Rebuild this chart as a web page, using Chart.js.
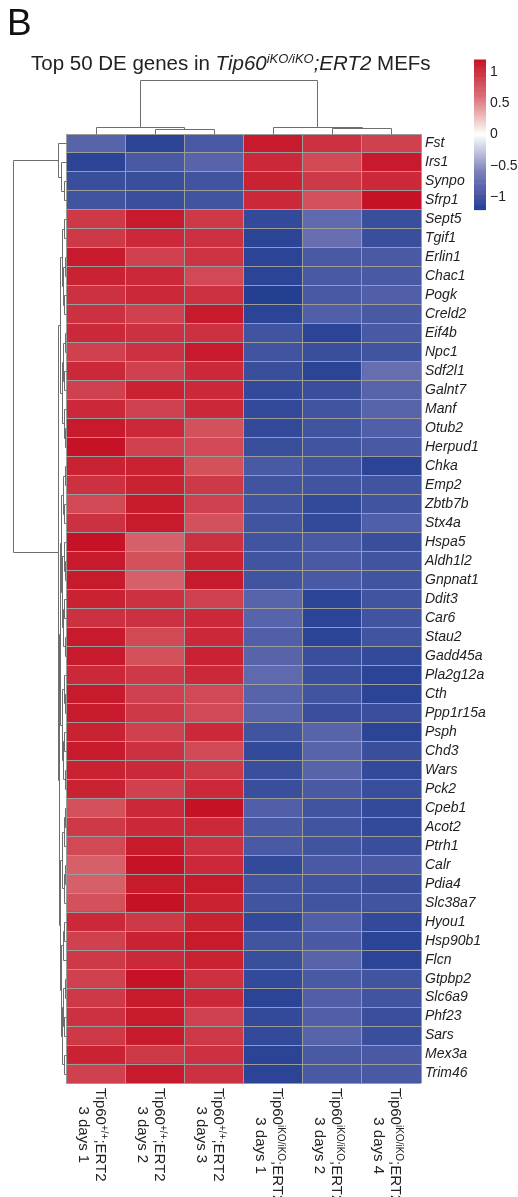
<!DOCTYPE html>
<html><head><meta charset="utf-8">
<script src="https://cdn.jsdelivr.net/npm/chart.js@4/dist/chart.umd.min.js"></script>
<style>html,body{margin:0;padding:0;background:#fff;}#wrap{position:relative;width:518px;height:1197px;}</style>
</head><body><div id="wrap"><canvas id="c"></canvas></div>
<script>
// ---------- data ----------
const genes = ['Fst','Irs1','Synpo','Sfrp1','Sept5','Tgif1','Erlin1','Chac1','Pogk','Creld2',
 'Eif4b','Npc1','Sdf2l1','Galnt7','Manf','Otub2','Herpud1','Chka','Emp2','Zbtb7b',
 'Stx4a','Hspa5','Aldh1l2','Gnpnat1','Ddit3','Car6','Stau2','Gadd45a','Pla2g12a','Cth',
 'Ppp1r15a','Psph','Chd3','Wars','Pck2','Cpeb1','Acot2','Ptrh1','Calr','Pdia4',
 'Slc38a7','Hyou1','Hsp90b1','Flcn','Gtpbp2','Slc6a9','Phf23','Sars','Mex3a','Trim46'];
const sampleGenotype = ['+/+','+/+','+/+','iKO/iKO','iKO/iKO','iKO/iKO'];
const sampleDay = ['3 days 1','3 days 2','3 days 3','3 days 1','3 days 2','3 days 4'];
const wt1 = [-0.85,-1.15,-1.05,-1.0,0.95,0.95,1.15,1.1,1.0,1.0, 1.05,0.9,1.05,0.9,1.05,1.15,1.2,1.1,1.0,0.85, 1.0,1.2,1.15,1.15,1.1,1.0,1.15,1.15,1.05,1.15, 1.15,1.1,1.15,1.1,1.1,0.8,0.95,0.85,0.7,0.7, 0.8,1.05,0.9,0.95,0.9,0.95,1.0,0.95,1.1,0.9];
const wt2 = [-1.15,-0.95,-1.05,-1.05,1.15,1.05,0.9,1.05,1.05,0.9, 1.0,1.0,0.9,1.1,0.9,1.05,0.9,1.1,1.1,1.15, 1.15,0.7,0.8,0.7,1.0,1.0,0.85,0.8,0.95,0.9, 0.95,0.9,1.0,1.05,0.9,1.05,1.05,1.15,1.2,1.15, 1.2,0.95,1.1,1.05,1.2,1.15,1.15,1.15,0.95,1.15];
const wt3 = [-0.95,-0.85,-1.0,-1.0,0.95,1.0,0.98,0.85,1.0,1.15, 1.0,1.15,1.05,1.05,1.05,0.8,0.85,0.8,0.95,0.9, 0.8,1.0,1.1,1.15,0.9,1.05,1.05,1.1,1.05,0.85, 0.85,1.05,0.85,0.95,1.05,1.2,1.05,1.0,1.05,1.15, 1.1,1.1,1.15,1.1,1.0,1.05,0.9,0.95,1.0,1.0];
const ko1 = [1.15,1.05,1.1,1.05,-1.1,-1.15,-1.15,-1.15,-1.2,-1.15, -1.0,-1.0,-1.05,-1.1,-1.1,-1.1,-1.05,-0.95,-1.0,-1.0, -1.0,-1.0,-1.0,-1.0,-0.85,-0.85,-0.9,-0.85,-0.8,-0.85, -0.85,-1.0,-1.1,-1.05,-1.05,-0.9,-0.95,-0.95,-1.1,-1.0, -1.0,-1.1,-1.0,-1.05,-1.1,-1.15,-1.1,-1.1,-1.15,-1.15];
const ko2 = [1.0,0.85,0.95,0.8,-0.8,-0.75,-0.95,-0.95,-0.95,-0.9, -1.15,-1.05,-1.15,-1.05,-1.0,-1.0,-1.0,-1.0,-1.0,-1.1, -1.1,-0.95,-0.95,-0.95,-1.15,-1.15,-1.15,-1.05,-1.05,-1.0, -1.05,-0.85,-0.85,-0.85,-0.95,-1.0,-1.0,-1.0,-0.95,-1.0, -1.0,-0.9,-0.95,-0.85,-0.95,-0.9,-0.9,-0.85,-0.95,-0.95];
const ko4 = [0.9,1.15,1.05,1.2,-1.05,-1.05,-0.95,-0.95,-0.9,-0.95, -0.95,-1.0,-0.75,-0.85,-0.85,-0.9,-0.95,-1.15,-1.0,-1.0, -0.9,-1.05,-1.0,-1.0,-1.0,-1.0,-1.0,-1.1,-1.15,-1.15, -1.05,-1.15,-1.05,-1.1,-1.05,-1.1,-1.1,-1.05,-0.95,-1.05, -1.0,-1.1,-1.15,-1.15,-1.0,-1.0,-1.05,-1.05,-0.95,-0.95];
const sampleValues = [wt1, wt2, wt3, ko1, ko2, ko4];
const legendTicks = [1, 0.5, 0, -0.5, -1];
// dendrograms: [left, right, height]; leaves are row / column indices
const rowTree = [
  [0, [1, [2, 3, 2], 5], 8],
  [
    [[[4,5,2],[[6,7,1.5],[8,9,2],3],4.5], [[[10,11,1.5],[12,13,2],3],[14,[15,16,1.5],2.5],4], 6],
    [
      [[[[17,18,1.5],[19,20,2],3],[[21,[22,23,1.5],2.5],[[24,25,2],[26,27,1.5],3],4],5],
       [[28,[29,30,1.5],2.5],[[31,32,2],[33,34,1.5],3],4], 6],
      [[[[35,36,1.5],37,2.5],[[38,39,1.5],40,2.5],4],
       [[[41,42,2],43,3],[[[44,45,1.5],[46,47,2],3],[48,49,2],4],5], 6],
      7
    ],
    8.5
  ],
  53
];
const colTree = [[0,[1,2,4.7],6.7],[3,[4,5,6.3],7.3],54];

// ---------- colours ----------
function lerp(a,b,t){return [0,1,2].map(i=>Math.round(a[i]+(b[i]-a[i])*t));}
function heatColor(v){
  v = Math.max(-1.2, Math.min(1.2, v));
  const W=[255,255,255];
  let c;
  if (v >= 0) {
    const m=[216,112,118], e=[198,18,38];
    c = v <= 0.6 ? lerp(W,m,v/0.6) : lerp(m,e,(v-0.6)/0.6);
  } else {
    const m=[124,126,187], e=[36,63,146];
    const a=-v;
    c = a <= 0.6 ? lerp(W,m,a/0.6) : lerp(m,e,(a-0.6)/0.6);
  }
  return `rgb(${c[0]},${c[1]},${c[2]})`;
}

const FONT = '"Liberation Sans", Arial, sans-serif';
Chart.defaults.font.family = FONT;

function drawSegments(ctx, segs, x, y, size, supSize, supRaise){
  let cx = x;
  for (const s of segs){
    const fs = s.sup ? supSize : size;
    ctx.font = `${s.italic?'italic ':''}${fs}px ${FONT}`;
    ctx.fillText(s.t, cx, s.sup ? y - supRaise : y);
    cx += ctx.measureText(s.t).width;
  }
  return cx - x;
}
function measureSegments(ctx, segs, size, supSize){
  let w=0;
  for (const s of segs){
    ctx.font = `${s.italic?'italic ':''}${s.sup?supSize:size}px ${FONT}`;
    w += ctx.measureText(s.t).width;
  }
  return w;
}

const extras = {
  id: 'extras',
  afterDraw(chart){
    const {ctx, chartArea: a, scales: {x, y}} = chart;
    ctx.save();
    // panel letter + title
    ctx.fillStyle = '#111';
    ctx.textBaseline = 'alphabetic';
    ctx.textAlign = 'left';
    ctx.font = `37px ${FONT}`;
    ctx.fillText('B', 7, 35);
    ctx.fillStyle = '#222';
    drawSegments(ctx, [
      {t:'Top 50 DE genes in '},
      {t:'Tip60', italic:true},
      {t:'iKO/iKO', italic:true, sup:true},
      {t:';ERT2', italic:true},
      {t:' MEFs'}
    ], 31, 70, 20.5, 13, 7);

    // dendrograms
    ctx.strokeStyle = '#6e6e6e';
    ctx.lineWidth = 1;
    const al = v => Math.round(v) + 0.5;
    const rowRootX = 13;
    const rx = h => a.left - h * (a.left - rowRootX) / rowTree[2];
    function drawRow(node){
      if (typeof node === 'number') return {pos: y.getPixelForValue(node), h: 0};
      const l = drawRow(node[0]), r = drawRow(node[1]), h = node[2];
      ctx.beginPath();
      ctx.moveTo(al(rx(l.h)), al(l.pos)); ctx.lineTo(al(rx(h)), al(l.pos));
      ctx.lineTo(al(rx(h)), al(r.pos)); ctx.lineTo(al(rx(r.h)), al(r.pos));
      ctx.stroke();
      return {pos: (l.pos + r.pos) / 2, h};
    }
    drawRow(rowTree);
    const colRootY = 80;
    const cy = h => a.top - h * (a.top - colRootY) / colTree[2];
    function drawCol(node){
      if (typeof node === 'number') return {pos: x.getPixelForValue(node + 0.5), h: 0};
      const l = drawCol(node[0]), r = drawCol(node[1]), h = node[2];
      ctx.beginPath();
      ctx.moveTo(al(l.pos), al(cy(l.h))); ctx.lineTo(al(l.pos), al(cy(h)));
      ctx.lineTo(al(r.pos), al(cy(h))); ctx.lineTo(al(r.pos), al(cy(r.h)));
      ctx.stroke();
      return {pos: (l.pos + r.pos) / 2, h};
    }
    drawCol(colTree);

    // colour legend
    const lx = 474, lw = 12, vTop = 1.2, vBot = -1.2;
    const ly = v => 72 + (1 - v) * 62.5;
    const steps = 120;
    for (let i = 0; i < steps; i++){
      const v1 = vTop - (vTop - vBot) * i / steps;
      const v2 = vTop - (vTop - vBot) * (i + 1) / steps;
      ctx.fillStyle = heatColor((v1 + v2) / 2);
      ctx.fillRect(lx, ly(v1), lw, ly(v2) - ly(v1) + 0.6);
    }
    ctx.fillStyle = '#222';
    ctx.font = `14px ${FONT}`;
    ctx.textBaseline = 'middle';
    for (const t of legendTicks){
      const s = t < 0 ? '\u2212' + String(-t) : String(t);
      ctx.fillText(s, lx + lw + 4, ly(t));
    }

    // column labels (rotated 90deg clockwise)
    ctx.textBaseline = 'alphabetic';
    ctx.fillStyle = '#222';
    const size = 15, sup = 10, lineH = 17;
    for (let c = 0; c < sampleGenotype.length; c++){
      const px = x.getPixelForValue(c + 0.5);
      const l1 = [{t:'Tip60'},{t:sampleGenotype[c], sup:true},{t:';ERT2'}];
      const l2 = [{t:sampleDay[c]}];
      const w1 = measureSegments(ctx, l1, size, sup), w2 = measureSegments(ctx, l2, size, sup);
      const mw = Math.max(w1, w2);
      ctx.save();
      ctx.translate(px, a.bottom + 5);
      ctx.rotate(Math.PI / 2);
      drawSegments(ctx, l1, (mw - w1) / 2, 0, size, sup, 5);
      drawSegments(ctx, l2, (mw - w2) / 2, lineH, size, sup, 5);
      ctx.restore();
    }
    ctx.restore();
  }
};

const datasets = sampleValues.map((vals, i) => ({
  label: 'sample ' + (i + 1),
  data: genes.map(() => 1),
  backgroundColor: vals.map(heatColor),
  borderWidth: 0,
  barPercentage: 1,
  categoryPercentage: 1
}));

new Chart(document.getElementById('c'), {
  type: 'bar',
  data: { labels: genes, datasets },
  options: {
    indexAxis: 'y',
    responsive: true,
    maintainAspectRatio: false,
    animation: false,
    layout: { padding: { left: 66, top: 134, right: 0, bottom: 114 } },
    plugins: { legend: { display: false }, tooltip: { enabled: false } },
    scales: {
      x: {
        type: 'linear', stacked: true, min: 0, max: 6,
        ticks: { display: false, stepSize: 1 },
        grid: { color: '#9c9c9c', lineWidth: 1, drawTicks: false, z: 1 },
        border: { display: false },
        afterFit: s => { s.height = 0; }
      },
      y: {
        type: 'category', stacked: true, position: 'right', offset: true,
        grid: { offset: true, color: '#9c9c9c', lineWidth: 1, drawTicks: false, z: 1 },
        border: { display: false },
        ticks: { autoSkip: false, padding: 4, color: '#222', font: { size: 14, style: 'italic', family: FONT } },
        afterFit: s => { s.width = 97; }
      }
    }
  },
  plugins: [extras]
});
</script>
</body></html>
